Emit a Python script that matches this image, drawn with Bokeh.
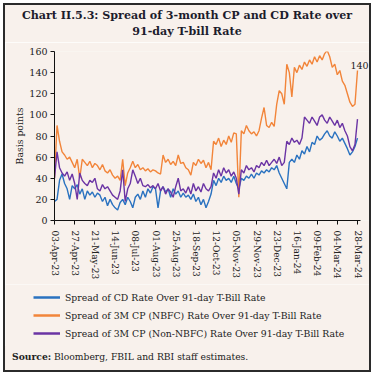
import pandas as pd
from bokeh.plotting import figure
from bokeh.models import (Range1d, FixedTicker, Label, Legend, LegendItem,
                          CustomJSTickFormatter, Div)
from bokeh.layouts import column, row
from bokeh.embed import file_html
from bokeh.resources import INLINE

# ---------------- data ----------------
start_date = "2023-04-03"
step_days = 3
cd_spread = [18, 20, 38, 44, 35, 30, 20, 33, 30, 34, 25, 30, 20, 28, 24, 27, 22, 26, 24, 18,
             22, 14, 20, 15, 12, 10, 17, 20, 15, 22, 18, 12, 22, 25, 20, 28, 22, 30, 26, 32,
             30, 12, 28, 32, 27, 30, 22, 30, 25, 28, 22, 26, 22, 24, 20, 25, 18, 22, 15, 20,
             12, 18, 25, 38, 33, 40, 36, 42, 38, 40, 36, 42, 35, 30, 40, 38, 42, 40, 44, 40,
             45, 43, 47, 45, 48, 46, 50, 48, 52, 45, 40, 35, 30, 55, 58, 55, 62, 58, 66, 63,
             70, 65, 74, 72, 80, 76, 78, 82, 85, 80, 78, 84, 80, 75, 78, 73, 68, 62, 65, 70,
             78]
cp_nbfc = [40, 90, 75, 65, 62, 58, 60, 55, 50, 58, 40, 58, 55, 52, 56, 50, 54, 52, 48, 53,
           47, 45, 48, 43, 40, 42, 38, 58, 33, 45, 50, 56, 50, 53, 48, 50, 47, 49, 46, 48,
           47, 45, 44, 62, 55, 58, 53, 56, 52, 62, 54, 55, 50, 48, 43, 55, 52, 58, 54, 57,
           50, 55, 48, 75, 72, 78, 70, 76, 72, 80, 74, 83, 82, 22, 85, 82, 90, 85, 82, 84,
           80, 85, 97, 107, 90, 88, 93, 89, 110, 123, 120, 110, 148, 140, 117, 145, 140, 147, 143, 150,
           146, 152, 148, 155, 150, 156, 152, 158, 161, 155, 145, 148, 138, 142, 132, 128, 120, 112, 108, 110,
           142]
cp_non_nbfc = [40, 65, 50, 45, 42, 46, 38, 44, 35, 20, 45, 38, 35, 33, 38, 36, 40, 30, 28, 34,
               30, 32, 28, 24, 22, 20, 28, 48, 18, 30, 35, 48, 42, 35, 40, 33, 32, 34, 31, 33,
               30, 35, 28, 32, 25, 30, 27, 22, 32, 40, 28, 30, 26, 32, 25, 35, 28, 32, 27, 35,
               30, 28, 32, 45, 40, 48, 42, 50, 45, 48, 42, 46, 40, 25, 48, 45, 52, 48, 50, 46,
               52, 50, 55, 52, 57, 52, 55, 58, 54, 60, 52, 55, 75, 72, 78, 74, 76, 72, 78, 98,
               95, 92, 98, 94, 90, 98, 100, 95, 92, 98, 94, 90, 95, 88, 92, 85, 80, 70, 66, 72,
               96]
series_names = ["Spread of CD Rate Over 91-day T-Bill Rate",
                "Spread of 3M CP (NBFC) Rate Over 91-day T-Bill Rate",
                "Spread of 3M CP (Non-NBFC) Rate Over 91-day T-Bill Rate"]
tick_dates = ["2023-04-03", "2023-04-27", "2023-05-21", "2023-06-14", "2023-07-08",
              "2023-08-01", "2023-08-25", "2023-09-18", "2023-10-12", "2023-11-05",
              "2023-11-29", "2023-12-23", "2024-01-16", "2024-02-09", "2024-03-04",
              "2024-03-28"]
y_ticks = [0, 20, 40, 60, 80, 100, 120, 140, 160]
end_label = "140"
title_lines = ["Chart II.5.3: Spread of 3-month CP and CD Rate over", "91-day T-bill Rate"]
source_head = "Source:"
source_text = "Bloomberg, FBIL and RBI staff estimates."

# ---------------- styling ----------------
BG = "#f8f1ec"
FRAME = "#2b2b2b"
BLUE = "#2a72c0"
ORANGE = "#f2853a"
PURPLE = "#6b34a4"
COLORS = [BLUE, ORANGE, PURPLE]
SERIF = "DejaVu Serif"
TXT = "#222222"
W = 364   # inner width
H = 365   # inner height

axis_start = pd.Timestamp("2023-04-03")
axis_end = pd.Timestamp("2024-03-31")
FRAME_W = 315
px_per_day = 303 / 360.0
range_end = axis_start + pd.Timedelta(days=FRAME_W / px_per_day)

dates = pd.date_range(start_date, periods=len(cd_spread), freq=f"{step_days}D")

title_div = Div(text="<br>".join(title_lines), width=W, height=37, margin=0,
                styles={"text-align": "center", "font-family": SERIF,
                        "font-weight": "bold", "font-size": "11.1px",
                        "line-height": "16px", "padding-top": "3px",
                        "color": "#1c1c2c", "box-sizing": "border-box",
                        "width": f"{W}px", "background-color": BG})

# ---------------- main chart ----------------
p = figure(frame_width=FRAME_W, frame_height=169, x_axis_type="datetime",
           output_backend="svg", toolbar_location=None,
           x_range=Range1d(axis_start, range_end),
           y_range=Range1d(0, 160),
           min_border_left=49, min_border_right=0, min_border_top=9,
           min_border_bottom=64, margin=0)
p.background_fill_color = BG
p.border_fill_color = BG
p.outline_line_color = None
p.grid.visible = False

renderers = [p.line(dates, vals, line_color=c, line_width=1.4)
             for vals, c in zip([cd_spread, cp_nbfc, cp_non_nbfc], COLORS)]

p.yaxis.ticker = FixedTicker(ticks=y_ticks)
p.yaxis.minor_tick_line_color = None
p.yaxis.major_tick_in = 0
p.yaxis.major_tick_out = 4
p.yaxis.major_label_standoff = 3
p.yaxis.axis_label = "Basis points"
p.yaxis.axis_label_text_font = SERIF
p.yaxis.axis_label_text_font_style = "normal"
p.yaxis.axis_label_text_font_size = "9.3px"
p.yaxis.axis_label_text_color = TXT
p.yaxis.axis_label_standoff = 1
p.yaxis.major_label_text_font = SERIF
p.yaxis.major_label_text_font_size = "9.5px"
p.yaxis.major_label_text_color = TXT

tick_ms = [pd.Timestamp(d).value // 10**6 for d in tick_dates]
p.xaxis.ticker = FixedTicker(ticks=tick_ms)
p.xaxis.bounds = (axis_start, axis_end)
p.xaxis.minor_tick_line_color = None
p.xaxis.major_tick_in = 0
p.xaxis.major_tick_out = 4
p.xaxis.major_label_standoff = 6
p.xaxis.formatter = CustomJSTickFormatter(code="""
const m = ['Jan','Feb','Mar','Apr','May','Jun','Jul','Aug','Sep','Oct','Nov','Dec'];
const d = new Date(tick);
const dd = String(d.getUTCDate()).padStart(2,'0');
const yy = String(d.getUTCFullYear()).slice(2);
return dd + '-' + m[d.getUTCMonth()] + '-' + yy;
""")
p.xaxis.major_label_orientation = "vertical"
p.xaxis.major_label_text_font = SERIF
p.xaxis.major_label_text_font_size = "9px"
p.xaxis.major_label_text_color = TXT
p.axis.axis_line_color = "#111111"
p.axis.major_tick_line_color = "#111111"

p.add_layout(Label(x=dates[-1], y=cp_nbfc[-1], text=end_label, text_align="center",
                   text_baseline="bottom", x_offset=2, y_offset=2, text_font=SERIF,
                   text_font_size="9.5px", text_color=TXT))

# ---------------- legend strip under the chart ----------------
# same series, drawn outside this strip's visible y-range, so that only the legend shows
lf = figure(width=W, height=62, output_backend="svg", toolbar_location=None,
            x_range=Range1d(axis_start, range_end), y_range=Range1d(-20, -10),
            x_axis_location=None, y_axis_location=None, min_border=0,
            min_border_left=0, min_border_right=0, min_border_top=0,
            min_border_bottom=0, margin=0)
lf.grid.visible = False
lf.outline_line_color = None
lf.background_fill_color = BG
lf.border_fill_color = BG
swatches = [lf.line(dates, vals, line_color=c, line_width=2.5)
            for vals, c in zip([cd_spread, cp_nbfc, cp_non_nbfc], COLORS)]
legend = Legend(items=[LegendItem(label=n, renderers=[r]) for n, r in zip(series_names, swatches)],
                location=(28, 6), orientation="vertical",
                background_fill_alpha=0, border_line_color=None,
                padding=0, margin=0, spacing=4, glyph_width=27, glyph_height=14,
                label_height=14, label_standoff=5,
                label_text_font=SERIF, label_text_font_size="9.3px",
                label_text_color=TXT)
lf.add_layout(legend, "center")

source_div = Div(text=f"<b>{source_head}</b> {source_text}", width=W, height=24, margin=0,
                 styles={"font-family": SERIF, "font-size": "9.2px",
                         "line-height": "19px", "padding-left": "7px",
                         "padding-top": "1px",
                         "color": TXT, "box-sizing": "border-box", "width": f"{W}px",
                         "background-color": BG})

inner = column(title_div, p, row(lf, margin=0), source_div, spacing=0, margin=0)

def bar(w, h):
    return Div(text="", width=w, height=h, margin=0,
               styles={"background-color": FRAME, "width": f"{w}px", "height": f"{h}px"})

page = column(bar(W + 4, 2),
              row(bar(2, H), inner, bar(2, H), spacing=0, margin=0),
              bar(W + 4, 2), spacing=0, margin=(3, 0, 0, 3))

open("out.html", "w").write(file_html(page, INLINE))
